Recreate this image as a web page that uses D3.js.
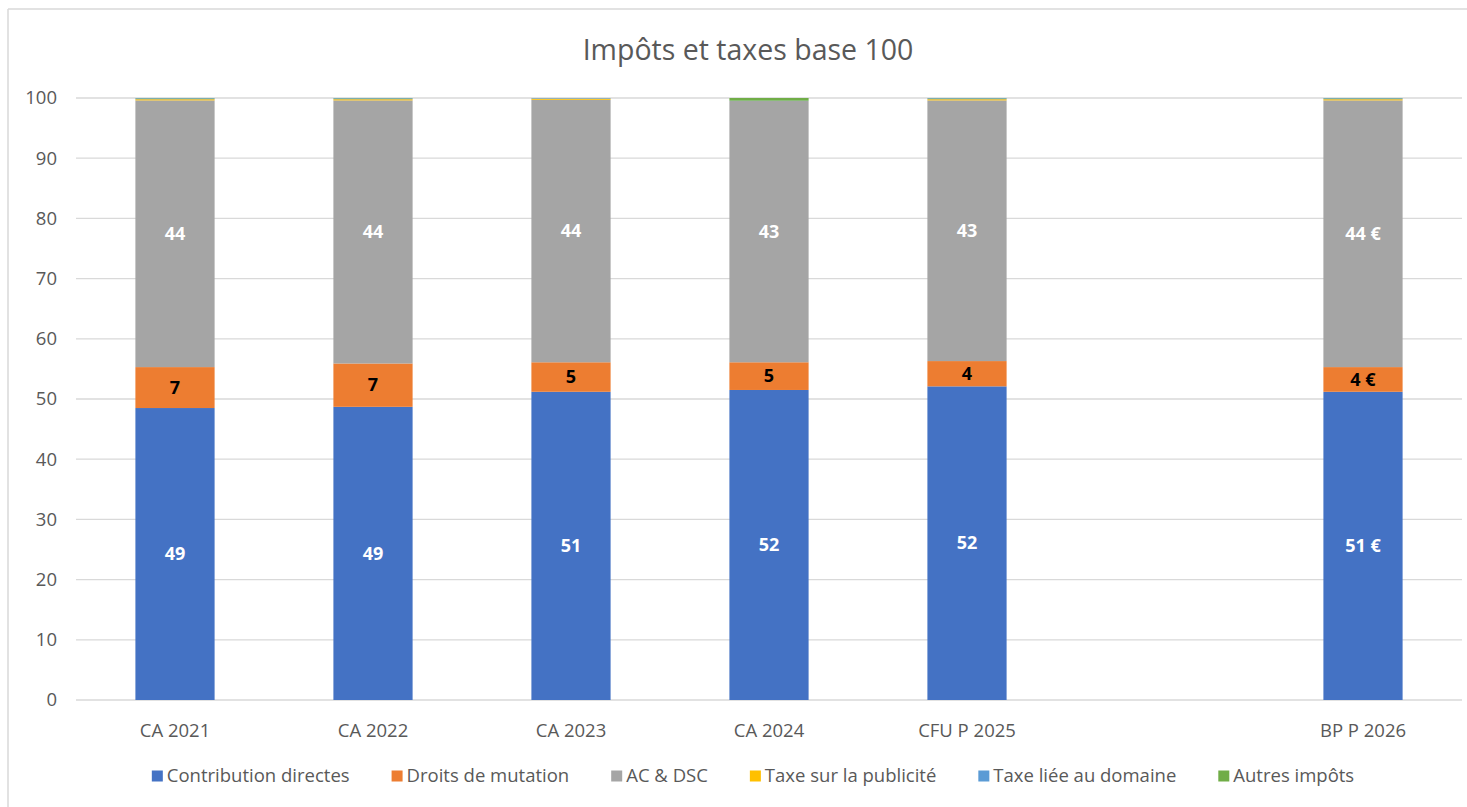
<!DOCTYPE html>
<html lang="fr">
<head>
<meta charset="utf-8">
<script src="https://cdn.jsdelivr.net/npm/d3@7"></script>
<style>
  html, body { margin: 0; padding: 0; background: #fff; }
  svg { display: block; }
  text { font-family: "Open Sans", Lato, "Liberation Sans", sans-serif; }
</style>
</head>
<body>
<svg id="chart" width="1467" height="807"></svg>
<script>
// Categories (one empty slot between 2025 and 2026)
const categories = ["CA 2021", "CA 2022", "CA 2023", "CA 2024", "CFU P 2025", "", "BP P 2026"];

// Series values, share of total (base 100)
const contributionDirectes = [48.5, 48.7, 51.2, 51.5, 52.1, null, 51.2];
const droitsMutation       = [6.8, 7.2, 4.9, 4.6, 4.2, null, 4.1];
const acDsc                = [44.3, 43.7, 43.6, 43.4, 43.3, null, 44.3];
const taxePublicite        = [0.2, 0.2, 0.2, 0.0, 0.2, null, 0.2];
const taxeDomaine          = [0.15, 0.15, 0.1, 0.05, 0.15, null, 0.15];
const autresImpots         = [0.05, 0.05, 0.0, 0.45, 0.05, null, 0.05];

const seriesNames  = ["Contribution directes", "Droits de mutation", "AC & DSC",
                      "Taxe sur la publicité", "Taxe liée au domaine", "Autres impôts"];
const seriesColors = ["#4472C4", "#ED7D31", "#A5A5A5", "#FFC000", "#5B9BD5", "#70AD47"];
const seriesValues = [contributionDirectes, droitsMutation, acDsc, taxePublicite, taxeDomaine, autresImpots];

// Series that carry a data label, with label colour
const labelColors = ["#ffffff", "#000000", "#ffffff", null, null, null];
// The last column shows values with a euro suffix
const euroCategory = "BP P 2026";

const yTicks = [0, 10, 20, 30, 40, 50, 60, 70, 80, 90, 100];
const title = "Impôts et taxes base 100";

const svg = d3.select("#chart");
const W = 1467, H = 807;
const plot = { left: 76, right: 1462, top: 98, bottom: 700 };
const FONT = "'Open Sans', Lato, 'Liberation Sans', sans-serif";
const AXIS_SIZE = "18.5px";

// Frame of the chart area (top and left edges visible)
svg.append("line").attr("x1", 8).attr("x2", W).attr("y1", 9).attr("y2", 9)
  .attr("stroke", "#d9d9d9").attr("stroke-width", 1.5);
svg.append("line").attr("x1", 8).attr("x2", 8).attr("y1", 9).attr("y2", H)
  .attr("stroke", "#d9d9d9").attr("stroke-width", 1.5);

const x = d3.scaleBand().domain(categories.map((c, i) => i))
  .range([plot.left, plot.right]).paddingInner(0.6).paddingOuter(0.3);
const y = d3.scaleLinear().domain([0, 100]).range([plot.bottom, plot.top]);

// Gridlines
svg.append("g").selectAll("line").data(yTicks).join("line")
  .attr("x1", plot.left).attr("x2", plot.right)
  .attr("y1", d => y(d)).attr("y2", d => y(d))
  .attr("stroke", "#d9d9d9").attr("stroke-width", 1.3);

// Y axis tick labels
const yAxis = d3.axisLeft(y).tickValues(yTicks).tickSize(0).tickPadding(0);
const gy = svg.append("g").attr("transform", `translate(${plot.left - 19},0)`).call(yAxis);
gy.select(".domain").remove();
gy.selectAll("text").attr("fill", "#595959").style("font-size", AXIS_SIZE)
  .style("font-family", FONT);

// X axis labels
const xAxis = d3.axisBottom(x).tickFormat(i => categories[i]).tickSize(0).tickPadding(0);
const gx = svg.append("g").attr("transform", `translate(0,${plot.bottom + 31})`).call(xAxis);
gx.select(".domain").remove();
gx.selectAll("text").attr("fill", "#595959").style("font-size", AXIS_SIZE)
  .attr("dy", "0.35em")
  .style("font-family", FONT);

// Stack the series
const rows = categories.map((c, i) => {
  const r = { idx: i };
  seriesNames.forEach((n, s) => { r[n] = seriesValues[s][i] == null ? 0 : seriesValues[s][i]; });
  return r;
});
const stacked = d3.stack().keys(seriesNames)(rows);

const bars = svg.append("g");
stacked.forEach((layer, s) => {
  bars.append("g").attr("fill", seriesColors[s]).selectAll("rect")
    .data(layer.filter(d => d[1] - d[0] > 0)).join("rect")
    .attr("x", d => x(d.data.idx))
    .attr("width", x.bandwidth())
    .attr("y", d => y(d[1]))
    .attr("height", d => y(d[0]) - y(d[1]));
});

// Data labels
const labels = svg.append("g");
stacked.forEach((layer, s) => {
  if (!labelColors[s]) return;
  labels.selectAll(null)
    .data(layer.filter(d => d[1] - d[0] > 0)).join("text")
    .attr("x", d => x(d.data.idx) + x.bandwidth() / 2)
    .attr("y", d => (y(d[0]) + y(d[1])) / 2)
    .attr("dy", "0.35em")
    .attr("text-anchor", "middle")
    .attr("fill", labelColors[s])
    .style("font-size", "18px").style("font-weight", "bold")
    .text(d => {
      const v = Math.round(d[1] - d[0]);
      return categories[d.data.idx] === euroCategory ? v + " €" : String(v);
    });
});

// Title
svg.append("text").attr("x", 748).attr("y", 50).attr("dy", "0.35em")
  .attr("text-anchor", "middle").attr("fill", "#595959")
  .style("font-size", "28.5px").text(title);

// Legend, centred below the axis
const legend = svg.append("g");
const items = legend.selectAll("g").data(seriesNames).join("g");
items.append("rect").attr("width", 11).attr("height", 11).attr("y", -5.5)
  .attr("fill", (d, i) => seriesColors[i]);
items.append("text").attr("x", 15).attr("dy", "0.35em").attr("fill", "#595959")
  .style("font-size", AXIS_SIZE).text(d => d);
let cursor = 0;
const gap = 42;
items.each(function () {
  const w = d3.select(this).select("text").node().getComputedTextLength() + 15;
  d3.select(this).attr("transform", `translate(${cursor},0)`);
  cursor += w + gap;
});
const total = cursor - gap;
legend.attr("transform", `translate(${753 - total / 2},${776})`);
</script>
</body>
</html>
